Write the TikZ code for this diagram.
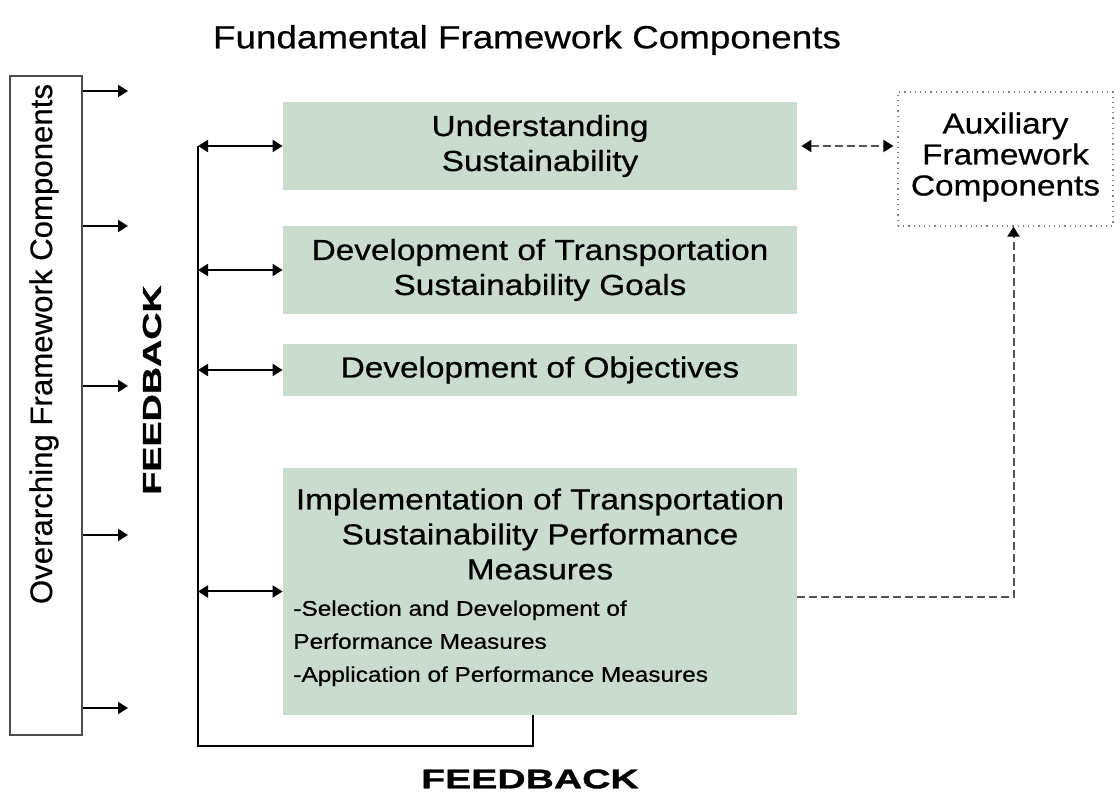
\documentclass[tikz,border=0pt]{standalone}
\usepackage{fontspec}
\setmainfont{Liberation Sans}[FakeStretch=1.15,FakeBold=0.6]
\newfontfamily\rotfont{Liberation Sans}[FakeBold=0.4]
\newfontfamily\fbfont{Liberation Sans}[FakeStretch=1.45,FakeBold=1.2]
\usetikzlibrary{arrows.meta}
\definecolor{boxgreen}{RGB}{201,220,205}
\definecolor{dashgray}{RGB}{85,85,85}
\newcommand\headfont{\fontsize{14.5}{17.5}\selectfont}
\newcommand\subfont{\fontsize{10.6}{16.5}\selectfont}

\begin{document}
\begin{tikzpicture}[x=0.5pt,y=-0.5pt,
		comp/.style={fill=boxgreen,minimum width=257pt,inner sep=0pt,align=center,font=\headfont},
		arr/.style={-{Triangle[length=5pt,width=6pt,color=black]},line width=1pt},
		dbl/.style={{Triangle[length=5pt,width=6pt,color=black]}-{Triangle[length=5pt,width=6pt,color=black]},line width=1pt},
		dsh/.style={dashgray,line width=1pt,dash pattern=on 4pt off 2pt}]
		\useasboundingbox (0,0) rectangle (1120,796);
		\node[font=\fontsize{16}{19}\selectfont] (title) at (527,40) {Fundamental Framework Components};
		% overarching components
		\node[draw=black!70,line width=0.6pt,minimum width=36pt,minimum height=329.5pt] (over) at (46,405.5) {};
		\node[rotate=90,font=\rotfont\fontsize{15.6}{18}\selectfont] (overtxt) at (44,344) {Overarching Framework Components};
		\foreach \y in {91,226,386,535,708}
			\draw[arr] (over.east |- 0,\y) -- (128,\y);
		% fundamental components
		\node[comp,minimum height=44pt] (under) at (540,146) {Understanding\\Sustainability};
		\node[comp,minimum height=44pt] (goals) at (540,270) {Development of Transportation\\Sustainability Goals};
		\node[comp,minimum height=26pt] (obj) at (540,370) {Development of Objectives};
		\node[comp,minimum height=123.5pt] (perf) at (540,591.5) {};
		\node[font=\headfont,align=center,anchor=north,inner sep=0pt] (perfhead) at (540,488)
			{Implementation of Transportation\\Sustainability Performance\\Measures};
		\node[font=\subfont,align=left,anchor=north west,inner sep=0pt] (perflist) at (293,600)
			{-Selection and Development of\\Performance Measures\\-Application of Performance Measures};
		% auxiliary components
		\node[draw=gray,dotted,line width=0.6pt,minimum width=107.5pt,minimum height=67pt] (aux) at (1005.5,159) {};
		\node[align=center,font=\fontsize{14.5}{15.5}\selectfont] (auxtxt) at (1005.5,157) {Auxiliary\\Framework\\Components};
		\draw[dsh,dbl] ([xshift=2pt]under.east) -- ([xshift=-2pt]under.east -| aux.west);
		\draw[dsh,arr] ([yshift=-3pt]perf.east) -| ([xshift=4pt]aux.south);
		% feedback loop
		\coordinate (fbtop) at (198,146);
		\coordinate (fbbot) at (198,746);
		\coordinate (fbend) at (533,746);
		\draw[line width=0.8pt] (fbtop) -- (fbbot) -- (fbend) -- (fbend |- perf.south);
		\foreach \b in {under,goals,obj,perf}
			\draw[dbl] (\b.west -| fbtop) -- (\b.west);
		\node[rotate=90,font=\fbfont\bfseries\fontsize{13}{15}\selectfont] (fbv) at (152,390) {FEEDBACK};
		\node[font=\fbfont\bfseries\fontsize{13.5}{15}\selectfont] (fbh) at (530,779) {FEEDBACK};
	\end{tikzpicture}
\end{document}
